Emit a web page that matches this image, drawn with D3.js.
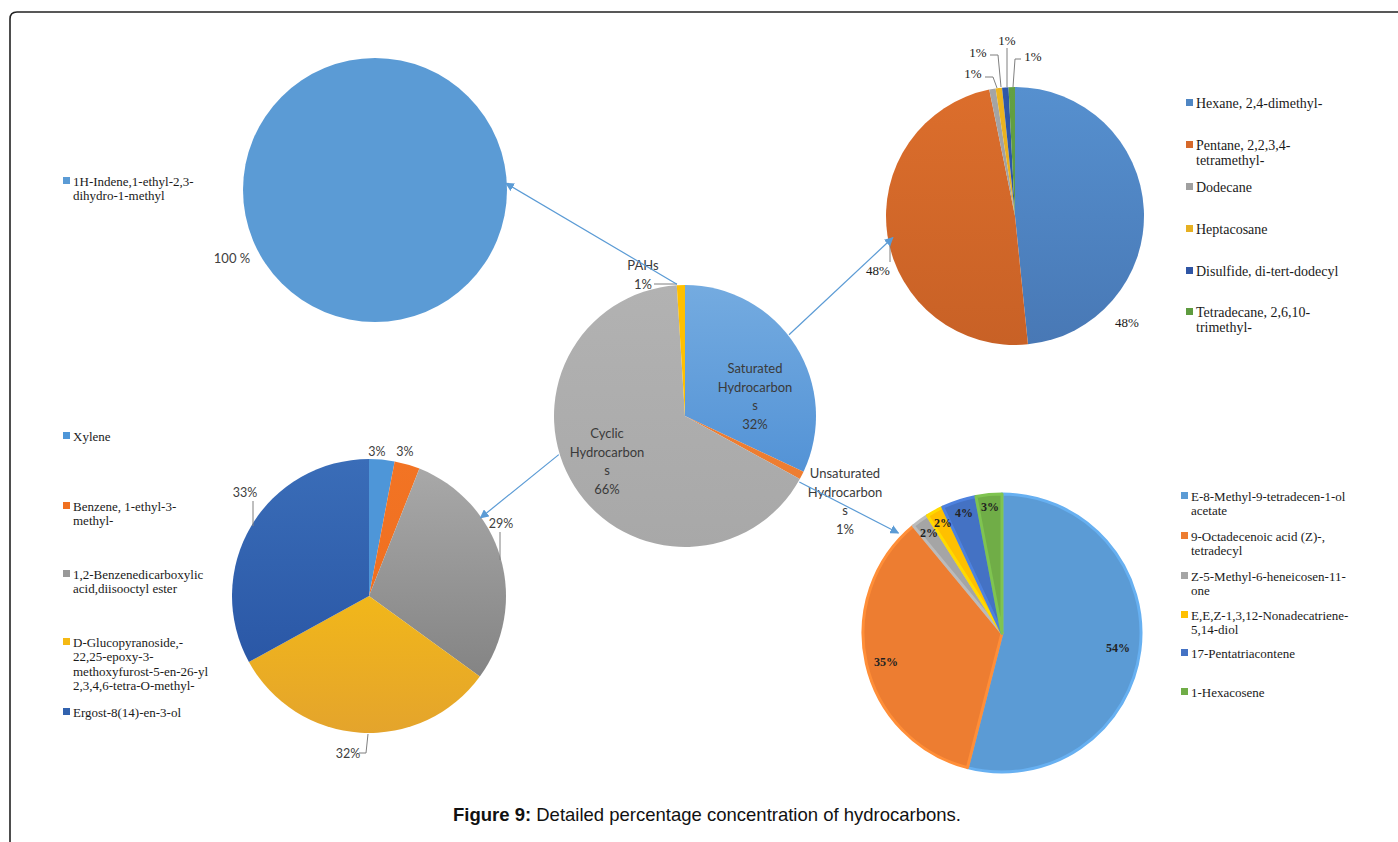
<!DOCTYPE html>
<html><head><meta charset="utf-8">
<script src="https://cdn.jsdelivr.net/npm/d3@7"></script>
<style>html,body{margin:0;padding:0;background:#fff;}svg{display:block;}</style>
</head><body>
<svg id="chart" width="1398" height="842"></svg>
<script>
// ---------- DATA ----------
const pahNames = ["1H-Indene,1-ethyl-2,3-dihydro-1-methyl"];
const pahValues = [100];

const classNames = ["Saturated Hydrocarbons", "Unsaturated Hydrocarbons", "Cyclic Hydrocarbons", "PAHs"];
const classValues = [32, 1, 66, 1];

const satNames = ["Hexane, 2,4-dimethyl-", "Pentane, 2,2,3,4-tetramethyl-", "Dodecane", "Heptacosane", "Disulfide, di-tert-dodecyl", "Tetradecane, 2,6,10-trimethyl-"];
const satValues = [48.4, 48.4, 0.8, 0.8, 0.8, 0.8];

const unsatNames = ["E-8-Methyl-9-tetradecen-1-ol acetate", "9-Octadecenoic acid (Z)-, tetradecyl", "Z-5-Methyl-6-heneicosen-11-one", "E,E,Z-1,3,12-Nonadecatriene-5,14-diol", "17-Pentatriacontene", "1-Hexacosene"];
const unsatValues = [54, 35, 2, 2, 4, 3];

const cycNames = ["Xylene", "Benzene, 1-ethyl-3-methyl-", "1,2-Benzenedicarboxylic acid,diisooctyl ester", "D-Glucopyranoside,-22,25-epoxy-3-methoxyfurost-5-en-26-yl 2,3,4,6-tetra-O-methyl-", "Ergost-8(14)-en-3-ol"];
const cycValues = [3, 3, 29, 32, 33];

const captionBold = "Figure 9:";
const captionText = " Detailed percentage concentration of hydrocarbons.";

// ---------- STYLE / LAYOUT ----------
const svg = d3.select("#chart");
const defs = svg.append("defs");
const SANS = "Lato, 'Open Sans', sans-serif";
const SERIF = "'Liberation Serif', 'Times New Roman', serif";

defs.append("marker").attr("id", "arrow").attr("viewBox", "0 0 10 10")
  .attr("refX", 9).attr("refY", 5).attr("markerWidth", 9).attr("markerHeight", 9)
  .attr("orient", "auto-start-reverse").attr("markerUnits", "userSpaceOnUse")
  .append("path").attr("d", "M0,0 L10,5 L0,10 z").attr("fill", "#5B9BD5");

// frame
svg.append("path").attr("d", "M10,842 V19 Q10,12 17,12 H1398")
  .attr("fill", "none").attr("stroke", "#222").attr("stroke-width", 1.6);

let gradId = 0;
function grad(top, bottom, cx, cy, r) {
  const id = "g" + (gradId++);
  const g = defs.append("linearGradient").attr("id", id).attr("gradientUnits", "userSpaceOnUse")
    .attr("x1", cx).attr("y1", cy - r).attr("x2", cx).attr("y2", cy + r);
  g.append("stop").attr("offset", 0).attr("stop-color", top);
  g.append("stop").attr("offset", 1).attr("stop-color", bottom);
  return "url(#" + id + ")";
}

function drawPie(cfg) {
  const g = svg.append("g").attr("transform", `translate(${cfg.cx},${cfg.cy})`);
  const pie = d3.pie().sort(null).value(d => d)(cfg.values);
  const arc = d3.arc().innerRadius(0).outerRadius(cfg.r);
  g.selectAll("path.slice").data(pie).join("path").attr("class", "slice")
    .attr("d", arc)
    .attr("fill", (d, i) => cfg.grad ? grad(cfg.grad[i][0], cfg.grad[i][1], 0, 0, cfg.r) : cfg.colors[i])
    .attr("stroke", (d, i) => cfg.stroke ? d3.color(cfg.colors[i]).brighter(0.35) : "none")
    .attr("stroke-width", cfg.stroke || 0)
    .attr("stroke-linejoin", "round");
  return {g, pie, arc};
}

function multiText(parent, x, y, lines, opts) {
  const t = parent.append("text").attr("x", x).attr("y", y)
    .attr("font-family", opts.font).attr("font-size", opts.size)
    .attr("font-weight", opts.weight || "normal")
    .attr("fill", opts.fill || "#404040").attr("text-anchor", opts.anchor || "middle");
  lines.forEach((l, i) => t.append("tspan").attr("x", x).attr("dy", i === 0 ? 0 : opts.lh).text(l));
  return t;
}

function legend(x, ys, linesList, colors, size) {
  linesList.forEach((lines, i) => {
    svg.append("rect").attr("x", x).attr("y", ys[i] - 4).attr("width", 7).attr("height", 7).attr("fill", colors[i]);
    multiText(svg, x + 10, ys[i] + 4.5, lines, {font: SERIF, size: size, fill: "#1a1a1a", anchor: "start", lh: size + 1.5});
  });
}

function polar(cx, cy, r, deg) {
  const a = deg * Math.PI / 180;
  return [cx + r * Math.sin(a), cy - r * Math.cos(a)];
}
function leader(pts) {
  svg.append("path").attr("d", d3.line()(pts)).attr("fill", "none").attr("stroke", "#7f7f7f").attr("stroke-width", 1);
}

// ---------- TOP-LEFT: PAHs ----------
const TL = {cx: 375, cy: 190, r: 132};
drawPie({...TL, values: pahValues, colors: ["#5B9BD5"]});
svg.append("text").attr("x", 232).attr("y", 263).attr("text-anchor", "middle")
  .attr("font-family", SANS).attr("font-size", 13).attr("fill", "#404040").text(pahValues[0] + " %");
legend(63, [181], [["1H-Indene,1-ethyl-2,3-", "dihydro-1-methyl"]], ["#5B9BD5"], 13);

// ---------- CENTER: classes ----------
const C = {cx: 685, cy: 416, r: 131};
const cColors = ["#5B9BD5", "#ED7D31", "#ADADAD", "#FFC000"];
drawPie({...C, values: classValues, colors: cColors,
  grad: [["#74ABE0", "#4689D2"], ["#ED7D31", "#ED7D31"], ["#B2B2B2", "#A8A8A8"], ["#FFC000", "#FFC000"]]});
const cLbl = [
  {x: 755, y: 373, lines: ["Saturated", "Hydrocarbon", "s", classValues[0] + "%"]},
  {x: 845, y: 478, lines: ["Unsaturated", "Hydrocarbon", "s", classValues[1] + "%"]},
  {x: 607, y: 438, lines: ["Cyclic", "Hydrocarbon", "s", classValues[2] + "%"]},
  {x: 643, y: 270, lines: ["PAHs", classValues[3] + "%"]}
];
cLbl.forEach(l => multiText(svg, l.x, l.y, l.lines, {font: SANS, size: 13, lh: 18.5, fill: "#3a3a3a"}));
leader([[654, 284], [677, 284]]);

// ---------- TOP-RIGHT: saturated ----------
const TR = {cx: 1015, cy: 216, r: 129};
const trColors = ["#4F86C3", "#D6692A", "#A0A0A0", "#E6B022", "#2F55A4", "#5E9B3F"];
drawPie({...TR, values: satValues, colors: trColors,
  grad: [["#5690CF", "#4878B5"], ["#DC6E2C", "#C86126"], ["#A5A5A5", "#9A9A9A"], ["#EDB520", "#E0A820"], ["#3058A8", "#2C50A0"], ["#62A043", "#5A953B"]]});
const trLbl = [
  {x: 1127, y: 327}, {x: 878, y: 275},
  {x: 973, y: 78}, {x: 978, y: 57}, {x: 1007, y: 45}, {x: 1033, y: 61}
];
trLbl.forEach((l, i) => svg.append("text").attr("x", l.x).attr("y", l.y).attr("text-anchor", "middle")
  .attr("font-family", SERIF).attr("font-size", 13).attr("fill", "#1a1a1a").text(Math.round(satValues[i]) + "%"));
leader([[890, 262], [890, 238]]);
leader([[985, 77], [993, 77], [997, 88]]);
leader([[990, 55], [998, 55], [1001, 87]]);
leader([[1007, 48], [1007, 87]]);
leader([[1021, 59], [1015, 59], [1013, 87]]);
legend(1186, [103, 145, 187, 229, 271, 312],
  [["Hexane, 2,4-dimethyl-"], ["Pentane, 2,2,3,4-", "tetramethyl-"], ["Dodecane"], ["Heptacosane"], ["Disulfide, di-tert-dodecyl"], ["Tetradecane, 2,6,10-", "trimethyl-"]],
  trColors, 14);

// ---------- BOTTOM-RIGHT: unsaturated ----------
const BR = {cx: 1002, cy: 633, r: 139};
const brColors = ["#5B9BD5", "#ED7D31", "#A5A5A5", "#FFC000", "#4472C4", "#70AD47"];
drawPie({...BR, values: unsatValues, colors: brColors, stroke: 3});
const brLbl = [
  {x: 1118, y: 652}, {x: 886, y: 666}, {x: 929, y: 537}, {x: 943, y: 527}, {x: 964, y: 517}, {x: 990, y: 511}
];
brLbl.forEach((l, i) => svg.append("text").attr("x", l.x).attr("y", l.y).attr("text-anchor", "middle")
  .attr("font-family", SERIF).attr("font-weight", "bold").attr("font-size", 12).attr("fill", "#222")
  .text(unsatValues[i] + "%"));
legend(1181, [496, 536, 576, 615, 653, 692],
  [["E-8-Methyl-9-tetradecen-1-ol", "acetate"], ["9-Octadecenoic acid (Z)-,", "tetradecyl"], ["Z-5-Methyl-6-heneicosen-11-", "one"], ["E,E,Z-1,3,12-Nonadecatriene-", "5,14-diol"], ["17-Pentatriacontene"], ["1-Hexacosene"]],
  brColors, 13);

// ---------- BOTTOM-LEFT: cyclic ----------
const BL = {cx: 369, cy: 596, r: 137};
const blColors = ["#4E96D8", "#F07020", "#999999", "#F5B914", "#3262AE"];
drawPie({...BL, values: cycValues, colors: blColors,
  grad: [["#4E96D8", "#4E96D8"], ["#F27424", "#EE6A1C"], ["#AAAAAA", "#7A7A7A"], ["#FFCA08", "#E4A42C"], ["#3A6DB8", "#2550A0"]]});
const blLbl = [
  {x: 377, y: 456}, {x: 405, y: 456}, {x: 501, y: 528}, {x: 348, y: 758}, {x: 245, y: 497}
];
blLbl.forEach((l, i) => svg.append("text").attr("x", l.x).attr("y", l.y).attr("text-anchor", "middle")
  .attr("font-family", SANS).attr("font-size", 12.5).attr("fill", "#404040").text(cycValues[i] + "%"));
leader([[500, 532], [500, 560]]);
leader([[253, 501], [253, 526]]);
leader([[359, 753], [366, 753], [368, 734]]);
legend(63, [436, 506, 574, 642, 712],
  [["Xylene"], ["Benzene, 1-ethyl-3-", "methyl-"], ["1,2-Benzenedicarboxylic", "acid,diisooctyl ester"], ["D-Glucopyranoside,-", "22,25-epoxy-3-", "methoxyfurost-5-en-26-yl", "2,3,4,6-tetra-O-methyl-"], ["Ergost-8(14)-en-3-ol"]],
  blColors, 13);

// ---------- ARROWS (center pie -> detail pies) ----------
const arrows = [
  {from: polar(C.cx, C.cy, C.r + 1, -3.5), to: polar(TL.cx, TL.cy, TL.r - 1, 87)},
  {from: polar(C.cx, C.cy, C.r + 1, 52), to: polar(TR.cx, TR.cy, TR.r - 5, 260)},
  {from: polar(C.cx, C.cy, C.r + 1, 253), to: polar(BL.cx, BL.cy, BL.r - 1, 55)},
  {from: polar(C.cx, C.cy, C.r + 1, 120), to: polar(BR.cx, BR.cy, BR.r + 5, 314)}
];
arrows.forEach(a => svg.append("line")
  .attr("x1", a.from[0]).attr("y1", a.from[1]).attr("x2", a.to[0]).attr("y2", a.to[1])
  .attr("stroke", "#5B9BD5").attr("stroke-width", 1.2).attr("marker-end", "url(#arrow)"));

// ---------- CAPTION ----------
const cap = svg.append("text").attr("x", 707).attr("y", 821).attr("text-anchor", "middle")
  .attr("font-family", "'Liberation Sans', Arial, sans-serif").attr("font-size", 18.5).attr("fill", "#111");
cap.append("tspan").attr("font-weight", "bold").text(captionBold);
cap.append("tspan").text(captionText);
</script>
</body></html>
